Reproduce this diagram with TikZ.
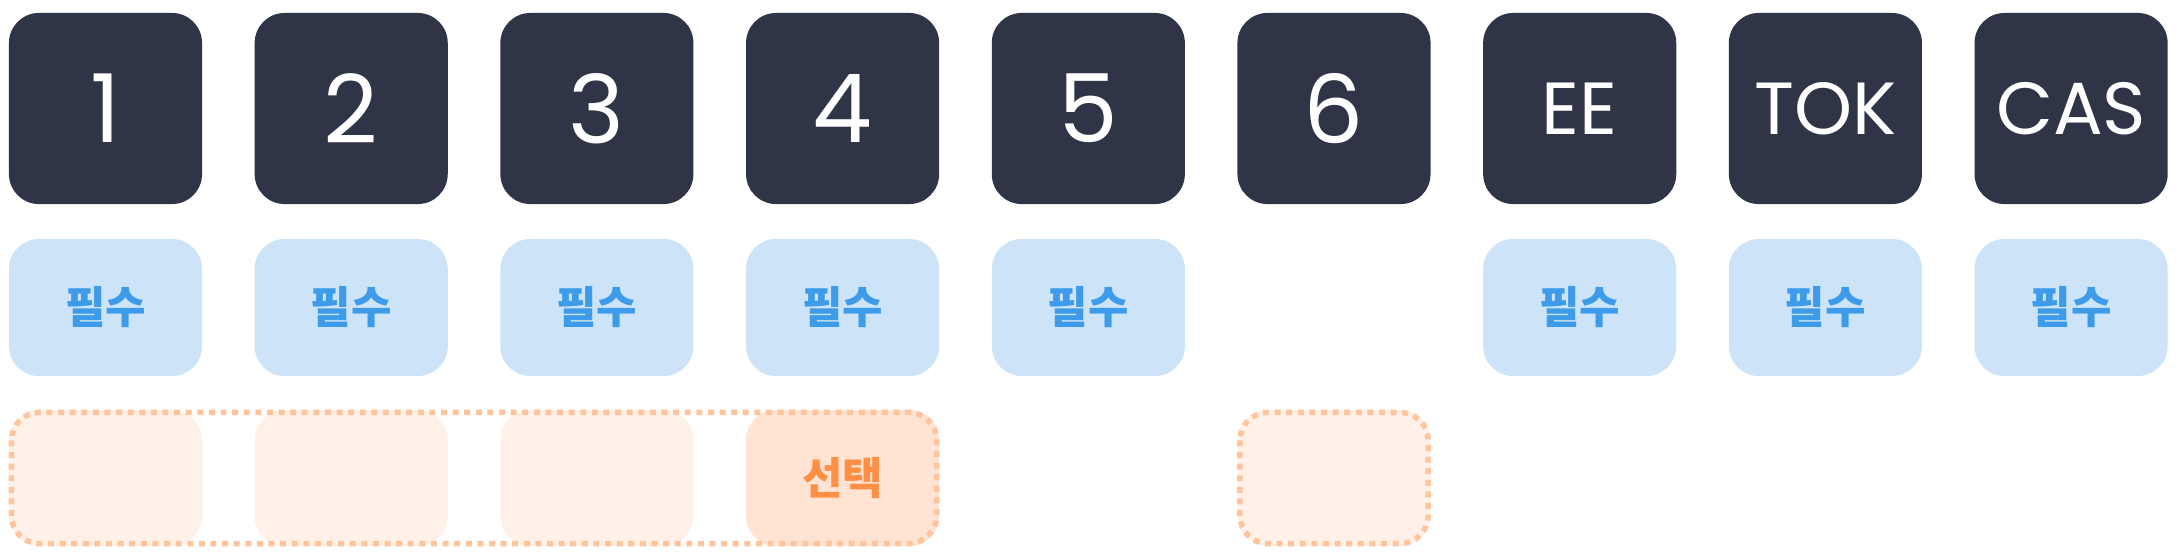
\documentclass[tikz,border=0pt]{standalone}
\usepackage{fontspec}
\setmainfont{Poppins}
\newfontfamily\krfont{Noto Sans CJK KR}
\definecolor{navy}{HTML}{2F3447}
\definecolor{coreblue}{HTML}{CDE4F8}
\definecolor{coretext}{HTML}{3D9BE9}
\definecolor{pickfill}{HTML}{FFF1E7}
\definecolor{pickdark}{HTML}{FFE3D3}
\definecolor{pickdot}{HTML}{FFC49C}
\definecolor{picktext}{HTML}{FF8F45}
\begin{document}
\begin{tikzpicture}[x=0.01cm, y=-0.01cm, line join=round,
	course/.style={fill=navy, text=white, rounded corners=0.3cm, inner sep=0pt,
		minimum width=1.93cm, minimum height=1.91cm, font=\fontsize{27}{29}\selectfont},
	core/.style={fill=coreblue, text=coretext, rounded corners=0.3cm, inner sep=0pt,
		minimum width=1.93cm, minimum height=1.37cm, font=\krfont\bfseries\fontsize{12.5}{14}\selectfont},
	pick/.style={fill=pickfill, text=picktext, rounded corners=0.3cm, inner sep=0pt,
		minimum width=1.93cm, minimum height=1.36cm, font=\krfont\bfseries\fontsize{12.5}{14}\selectfont},
	pickline/.style={draw=pickdot, line width=0.055cm, dash pattern=on 1.7pt off 1.6pt, rounded corners=0.28cm}]
	% Hằng số
	\def\dx{245.7}
	\def\xo{105.5}
	
	\useasboundingbox (0,0) rectangle (2184,557);
	
	% Hàng trên: các môn
	\foreach \lab [count=\i from 0] in {1,2,3,4,5,6}
		\node[course] (c\i) at (\xo+\i*\dx, 108.5) {\lab};
	\foreach \lab [count=\i from 6] in {EE,TOK,CAS}
		\node[course, font=\fontsize{21}{23}\selectfont] (c\i) at (\xo+\i*\dx, 108.5) {\lab};
	
	% Hàng giữa: bắt buộc
	\foreach \i in {0,1,2,3,4,6,7,8}
		\node[core] (r\i) at (\xo+\i*\dx, 307.5) {필수};
	
	% Hàng dưới: tự chọn
	\foreach \i in {0,1,2,5}
		\node[pick] (p\i) at (\xo+\i*\dx, 478) {};
	\node[pick, fill=pickdark] (p3) at (\xo+3*\dx, 478) {선택};
	
	% Khung chấm
	\draw[pickline] ([shift={(0.9pt,-0.9pt)}]p0.north west) rectangle ([shift={(-0.9pt,0.9pt)}]p3.south east);
	\draw[pickline] ([shift={(0.9pt,-0.9pt)}]p5.north west) rectangle ([shift={(-0.9pt,0.9pt)}]p5.south east);
\end{tikzpicture}
\end{document}
